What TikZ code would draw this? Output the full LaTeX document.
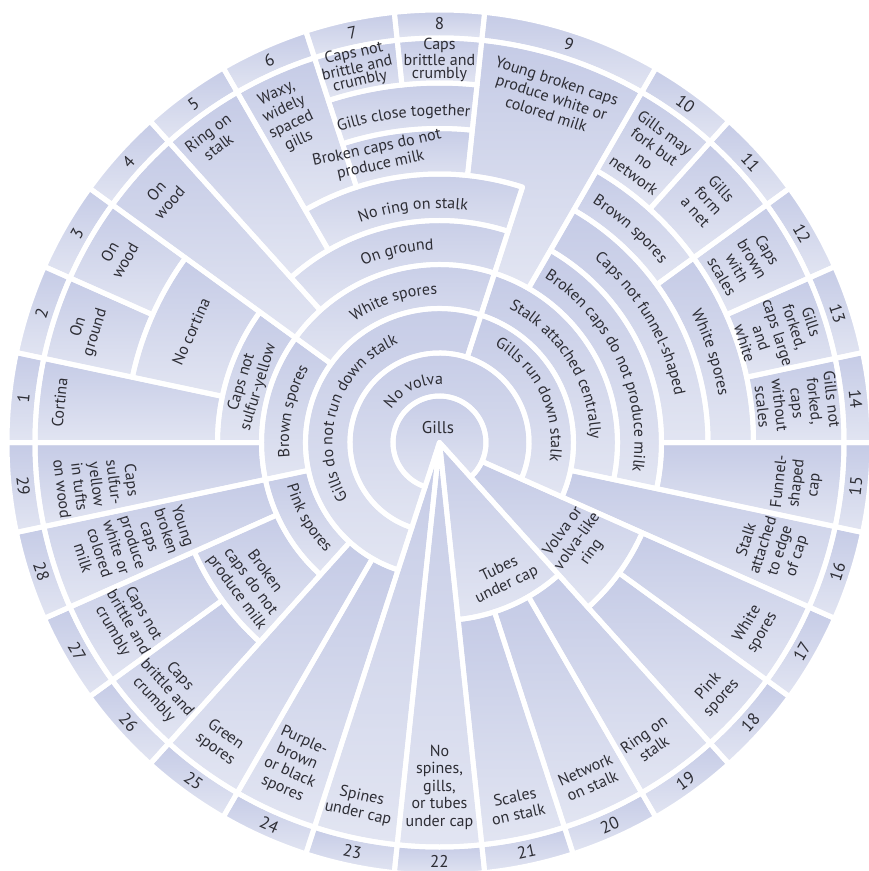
\documentclass[tikz,border=0pt]{standalone}
\usepackage{fontspec}
\setmainfont{PT Sans}
\usetikzlibrary{decorations.text}
\definecolor{ctop}{RGB}{197,203,230}
\definecolor{cbot}{RGB}{226,229,242}
\definecolor{txt}{RGB}{45,45,52}
\newcommand\lfont{\fontsize{16}{17.5}\selectfont}
\newcommand\tfont{\fontsize{16}{13}\selectfont}
\newcommand\nfont{\fontsize{17}{18}\selectfont}
\def\rgA{46.5}\def\rgB{89.5}\def\rgC{134}\def\rgD{178}\def\rgE{222}
\def\rgF{268.5}\def\rgG{314}\def\rgH{359.5}\def\rgI{404.5}\def\rgJ{432.5}
\newcommand\cellx[4]{\path[cellsty] ({#1}:#3pt) -- ({#1}:#4pt) arc[start angle={#1},end angle={#2},radius=#4pt] -- ({#2}:#3pt) arc[start angle={#2},end angle={#1},radius=#3pt] -- cycle;}
\newcommand\wedgex[3]{\path[cellsty] (0,0) -- ({#1}:#3pt) arc[start angle={#1},end angle={#2},radius=#3pt] -- cycle;}
\newcommand\curvelabel[4]{\path[decorate,decoration={text along path,text align=center,text color=txt,text={|\lfont|#4}}] ({#1}:#3pt) arc[start angle={#1},end angle={#2},radius=#3pt];}
\newcommand\allcells{%
 \wedgex{-48}{252}{\rgA}
 \wedgex{-84}{-48}{\rgD}
 \wedgex{-96}{-84}{\rgI}
 \wedgex{252}{264}{\rgI}
 \cellx{-24}{252}{\rgA}{\rgB}
 \cellx{-48}{-24}{\rgA}{\rgE}
 \cellx{-24}{72}{\rgB}{\rgC}
 \cellx{72}{252}{\rgB}{\rgC}
 \cellx{-24}{-12}{\rgC}{\rgI}
 \cellx{-12}{72}{\rgC}{\rgD}
 \cellx{72}{144}{\rgC}{\rgD}
 \cellx{144}{192}{\rgC}{\rgD}
 \cellx{192}{228}{\rgC}{\rgD}
 \cellx{228}{240}{\rgC}{\rgI}
 \cellx{240}{252}{\rgC}{\rgI}
 \cellx{-12}{60}{\rgD}{\rgE}
 \path[cellsty] (60:\rgD pt) -- (60:\rgI pt) arc[start angle=60,end angle=84,radius=\rgI pt] -- (84:\rgF pt) arc[start angle=84,end angle=72,radius=\rgF pt] -- (72:\rgD pt) arc[start angle=72,end angle=60,radius=\rgD pt] -- cycle;
 \cellx{72}{132}{\rgD}{\rgE}
 \cellx{132}{144}{\rgD}{\rgI}
 \cellx{144}{180}{\rgD}{\rgE}
 \cellx{180}{192}{\rgD}{\rgI}
 \cellx{192}{204}{\rgD}{\rgI}
 \cellx{204}{228}{\rgD}{\rgF}
 \cellx{-60}{-48}{\rgD}{\rgI}
 \cellx{-72}{-60}{\rgD}{\rgI}
 \cellx{-84}{-72}{\rgD}{\rgI}
 \cellx{-12}{0}{\rgE}{\rgI}
 \cellx{0}{60}{\rgE}{\rgF}
 \cellx{72}{120}{\rgE}{\rgF}
 \cellx{120}{132}{\rgE}{\rgI}
 \cellx{144}{168}{\rgE}{\rgG}
 \cellx{168}{180}{\rgE}{\rgI}
 \cellx{-36}{-24}{\rgE}{\rgI}
 \cellx{-48}{-36}{\rgE}{\rgI}
 \cellx{0}{36}{\rgF}{\rgG}
 \cellx{36}{60}{\rgF}{\rgG}
 \cellx{84}{108}{\rgF}{\rgG}
 \cellx{108}{120}{\rgF}{\rgI}
 \cellx{204}{216}{\rgF}{\rgI}
 \cellx{216}{228}{\rgF}{\rgI}
 \cellx{0}{12}{\rgG}{\rgI}
 \cellx{12}{24}{\rgG}{\rgI}
 \cellx{24}{36}{\rgG}{\rgI}
 \cellx{36}{48}{\rgG}{\rgI}
 \cellx{48}{60}{\rgG}{\rgI}
 \cellx{84}{108}{\rgG}{\rgH}
 \cellx{156}{168}{\rgG}{\rgI}
 \cellx{144}{156}{\rgG}{\rgI}
 \cellx{96}{108}{\rgH}{\rgI}
 \cellx{84}{96}{\rgH}{\rgI}
 \foreach \a in {-180,-168,...,48} {\cellx{\a}{\a+12}{\rgI}{\rgJ}}
 \cellx{60}{84}{\rgI}{\rgJ}
 \foreach \a in {84,96,...,168} {\cellx{\a}{\a+12}{\rgI}{\rgJ}}
}
\begin{document}
\begin{tikzpicture}[x=1pt,y=1pt,
  lbl/.style={font=\lfont,text=txt,align=center,inner sep=0pt},
  tlbl/.style={font=\tfont,text=txt,align=center,inner sep=0pt},
  num/.style={font=\nfont,text=txt,inner sep=0pt}]
\useasboundingbox (-439.5,-428.5) rectangle (429.5,442.5);
\fill[white] (-439.5,-428.5) rectangle (429.5,442.5);
\tikzset{cellsty/.style={top color=ctop,bottom color=cbot}}
\allcells
\tikzset{cellsty/.style={draw=white,line width=5pt,line join=round}}
\allcells
% numbers
\foreach \n/\t in {1/174,2/162,3/150,4/138,5/126,6/114,7/102,8/90,9/72,10/54,11/42,12/30,13/18,14/6}
  {\node[num,rotate=\t-90] (n\n) at (\t:418.5pt) {\n};}
\foreach \n/\t in {15/-6,16/-18,17/-30,18/-42,19/-54,20/-66,21/-78,22/-90,23/-102,24/-114,25/-126,26/-138,27/-150,28/-162,29/-174}
  {\node[num,rotate=\t+90] (n\n) at (\t:418.5pt) {\n};}
% centre
\node[lbl,font=\fontsize{17}{18}\selectfont] (gills) at (-1.5,14.5) {Gills};
% curved ring labels
\curvelabel{156}{76}{58.5}{No volva}
\curvelabel{247}{77}{107}{Gills do not run down stalk}
\curvelabel{72.5}{-21.5}{111.5}{Gills run down stalk}
\curvelabel{143}{73}{148}{White spores}
\curvelabel{191}{145}{150.5}{Brown spores}
\curvelabel{190}{230}{158.5}{Pink spores}
\curvelabel{72}{-8}{151}{Stalk attached centrally}
\curvelabel{131.5}{73.5}{193}{On ground}
\curvelabel{69.5}{-20.5}{195}{Broken caps do not produce milk}
\curvelabel{119.5}{73.5}{234}{No ring on stalk}
\curvelabel{59.5}{1.5}{240}{Caps not funnel-shaped}
\curvelabel{111.3}{81.3}{327}{Gills close together}
\curvelabel{68.2}{28.2}{284}{Brown spores}
\curvelabel{38.3}{-1.7}{283}{White spores}
% top half labels
\node[lbl,rotate=84] (l1) at (174:382pt) {Cortina};
\node[lbl,rotate=72.3] (l2) at (162.3:370pt) {On\\ground};
\node[lbl,rotate=60] (l3) at (150:372pt) {On\\wood};
\node[lbl,rotate=48.4] (l4) at (138.4:370pt) {On\\wood};
\node[lbl,rotate=36.8] (l5) at (126.8:378pt) {Ring on\\stalk};
\node[lbl,rotate=25] (l6) at (115:359pt) {Waxy,\\widely\\spaced\\gills};
\node[tlbl,rotate=12.4] (l7) at (102.4:384pt) {Caps not\\brittle and\\crumbly};
\node[tlbl,rotate=0] (l8) at (90:382.5pt) {Caps\\brittle and\\crumbly};
\node[lbl,rotate=-18] (l9) at (72:363pt) {Young broken caps\\produce white or\\colored milk};
\node[lbl,rotate=-36] (l10) at (54:357pt) {Gills may\\fork but\\no\\network};
\node[lbl,rotate=-48] (l11) at (42:362pt) {Gills\\form\\a net};
\node[lbl,rotate=-59.6] (l12) at (30.4:354pt) {Caps\\brown\\with\\scales};
\node[lbl,rotate=-72] (l13) at (18:356pt) {Gills\\forked,\\caps large\\and\\white};
\node[lbl,rotate=-83.7] (l14) at (6.3:360pt) {Gills not\\forked,\\caps\\without\\scales};
\node[lbl,rotate=12] (bct) at (102:292pt) {Broken caps do not\\produce milk};
\node[lbl,rotate=73] (cns) at (163:198pt) {Caps not\\sulfur-yellow};
\node[lbl,rotate=66] (ncort) at (156:272pt) {No cortina};
% bottom half labels
\node[lbl,rotate=83.5] (l15) at (-6.5:360pt) {Funnel-\\shaped\\cap};
\node[lbl,rotate=72.4] (l16) at (-17.6:349pt) {Stalk\\attached\\to edge\\of cap};
\node[lbl,rotate=59.5] (l17) at (-30.5:366pt) {White\\spores};
\node[lbl,rotate=47.8] (l18) at (-42.2:372pt) {Pink\\spores};
\node[lbl,rotate=35] (l19) at (-55:365pt) {Ring on\\stalk};
\node[lbl,rotate=24] (l20) at (-66:367pt) {Network\\on stalk};
\node[lbl,rotate=12] (l21) at (-78:371pt) {Scales\\on stalk};
\node[lbl,rotate=0] (l22) at (-90:344.5pt) {No\\spines,\\gills,\\or tubes\\under cap};
\node[lbl,rotate=-12.4] (l23) at (257.6:371pt) {Spines\\under cap};
\node[lbl,rotate=-24.4] (l24) at (245.6:354pt) {Purple-\\brown\\or black\\spores};
\node[lbl,rotate=-36.2] (l25) at (233.8:371pt) {Green\\spores};
\node[lbl,rotate=-48] (l26) at (222:367pt) {Caps\\brittle and\\crumbly};
\node[lbl,rotate=-60] (l27) at (210:360pt) {Caps not\\brittle and\\crumbly};
\node[lbl,rotate=-72] (l28) at (198:322pt) {Young\\broken\\caps\\produce\\white or\\colored\\milk};
\node[lbl,rotate=-83] (l29) at (187:345pt) {Caps\\sulfur-\\yellow\\in tufts\\on wood};
\node[lbl,rotate=-53.6] (bcl) at (216.4:235pt) {Broken\\caps do not\\produce milk};
\node[lbl,rotate=25.3] (tubes) at (-64.7:149pt) {Tubes\\under cap};
\node[lbl,rotate=54.3] (volva) at (-35.7:170pt) {Volva or\\volva-like\\ring};
\end{tikzpicture}
\end{document}
